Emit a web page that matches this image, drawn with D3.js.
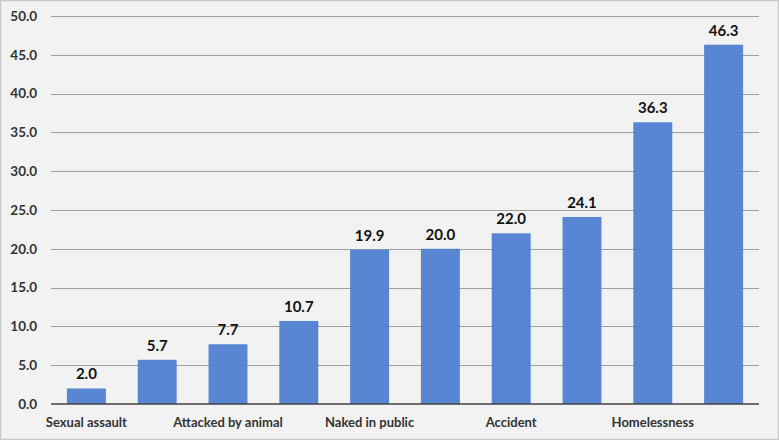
<!DOCTYPE html>
<html>
<head>
<meta charset="utf-8">
<script src="https://cdn.jsdelivr.net/npm/d3@7"></script>
<style>
  html, body { margin: 0; padding: 0; background: #fff; }
  svg { display: block; font-family: Lato, "Open Sans", sans-serif; font-weight: bold; }
</style>
</head>
<body>
<div id="chart"></div>
<script>
// labels shown under every other bar only; the hidden ones are left blank
var categories = ["Sexual assault", "", "Attacked by animal", "", "Naked in public", "", "Accident", "", "Homelessness", ""];
var values = [2.0, 5.7, 7.7, 10.7, 19.9, 20.0, 22.0, 24.1, 36.3, 46.3];
var yTicks = [0, 5, 10, 15, 20, 25, 30, 35, 40, 45, 50];

var W = 779, H = 440;
var margin = {left: 51, right: 20, top: 16, bottom: 36};

var svg = d3.select("#chart").append("svg")
	.attr("width", W)
	.attr("height", H);

// BACKGROUND AND FRAME
svg.append("rect")
	.attr("x", 0.5).attr("y", 0.5)
	.attr("width", W - 1).attr("height", H - 1)
	.attr("fill", "#f2f2f2")
	.attr("stroke", "#c8c8c8")
	.attr("stroke-width", 1.5);

var x = d3.scaleBand()
	.domain(d3.range(values.length))
	.range([margin.left, W - margin.right])
	.paddingInner(0.45)
	.paddingOuter(0.225);

var y = d3.scaleLinear()
	.domain([0, 50])
	.range([H - margin.bottom, margin.top]);

// GRIDLINES
svg.append("g")
	.selectAll("line")
	.data(yTicks.slice(1))
	.enter().append("line")
	.attr("x1", margin.left).attr("x2", W - margin.right)
	.attr("y1", function(d){ return Math.round(y(d)) + 0.5; })
	.attr("y2", function(d){ return Math.round(y(d)) + 0.5; })
	.attr("stroke", "#9f9f9f")
	.attr("stroke-width", 1);

// Y TICK LABELS
svg.append("g")
	.selectAll("text")
	.data(yTicks)
	.enter().append("text")
	.attr("x", 37)
	.attr("y", function(d){ return y(d); })
	.attr("dy", "0.35em")
	.attr("text-anchor", "end")
	.attr("fill", "#333")
	.style("font-size", "13.5px")
	.text(function(d){ return d.toFixed(1); });

// BARS
svg.append("g")
	.selectAll("rect")
	.data(values)
	.enter().append("rect")
	.attr("x", function(d, i){ return x(i); })
	.attr("y", function(d){ return y(d); })
	.attr("width", x.bandwidth())
	.attr("height", function(d){ return y(0) - y(d); })
	.attr("fill", "#4f7fd0")
	.attr("fill-opacity", 0.95);

// VALUE LABELS
svg.append("g")
	.selectAll("text")
	.data(values)
	.enter().append("text")
	.attr("x", function(d, i){ return x(i) + x.bandwidth() / 2; })
	.attr("y", function(d){ return y(d) - 9; })
	.attr("text-anchor", "middle")
	.attr("fill", "#111")
	.style("font-size", "15px")
	.text(function(d){ return d.toFixed(1); });

// BASELINE
svg.append("line")
	.attr("x1", margin.left).attr("x2", W - margin.right)
	.attr("y1", y(0)).attr("y2", y(0))
	.attr("stroke", "#404040")
	.attr("stroke-width", 1.5);

// CATEGORY LABELS
svg.append("g")
	.selectAll("text")
	.data(categories)
	.enter().append("text")
	.attr("x", function(d, i){ return x(i) + x.bandwidth() / 2; })
	.attr("y", y(0) + 23)
	.attr("text-anchor", "middle")
	.attr("fill", "#333")
	.style("font-size", "13px")
	.text(function(d){ return d; });
</script>
</body>
</html>
